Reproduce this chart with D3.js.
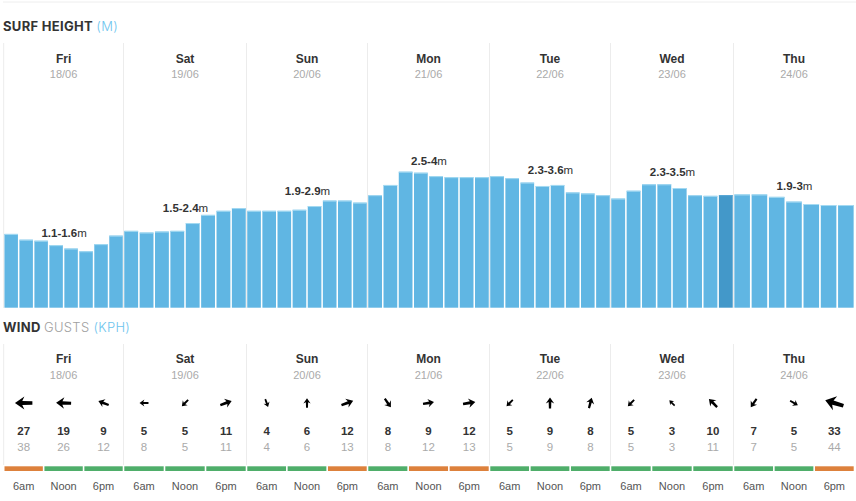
<!DOCTYPE html>
<html>
<head>
<meta charset="utf-8">
<script src="https://cdn.jsdelivr.net/npm/d3@7"></script>
<style>
	html, body { margin: 0; padding: 0; background: #fff; }
	svg { display: block; }
	text { font-family: "Liberation Sans", Arial, sans-serif; }
	.title { font-family: Inter, sans-serif; font-size: 13px; letter-spacing: 0.3px; }
</style>
</head>
<body>
<svg id="chart" width="856" height="501"></svg>
<script>
// forecast data
var days = ["Fri", "Sat", "Sun", "Mon", "Tue", "Wed", "Thu"];
var dates = ["18/06", "19/06", "20/06", "21/06", "22/06", "23/06", "24/06"];
var rangeMin = ["1.1", "1.5", "1.9", "2.5", "2.3", "2.3", "1.9"];
var rangeMax = ["1.6", "2.4", "2.9", "4", "3.6", "3.5", "3"];
var rangeLevel = [2.19, 2.94, 3.44, 4.32, 4.06, 3.98, 3.57];

var surfFri = [2.17, 2.00, 1.97, 1.84, 1.74, 1.66, 1.87, 2.12];
var surfSat = [2.26, 2.21, 2.24, 2.26, 2.49, 2.73, 2.85, 2.93];
var surfSun = [2.85, 2.85, 2.85, 2.88, 2.99, 3.15, 3.15, 3.09];
var surfMon = [3.31, 3.61, 4.00, 3.97, 3.87, 3.84, 3.84, 3.84];
var surfTue = [3.87, 3.81, 3.68, 3.58, 3.61, 3.39, 3.36, 3.31];
var surfWed = [3.21, 3.44, 3.63, 3.63, 3.52, 3.31, 3.29, 3.31];
var surfThu = [3.33, 3.33, 3.26, 3.12, 3.05, 3.02, 3.02];
var surf = [surfFri, surfSat, surfSun, surfMon, surfTue, surfWed, surfThu];

var slots = ["6am", "Noon", "6pm"];
var windSpeed = [27, 19, 9, 5, 5, 11, 4, 6, 12, 8, 9, 12, 5, 9, 8, 5, 3, 10, 7, 5, 33];
var windGust = [38, 26, 12, 8, 5, 11, 4, 6, 13, 8, 12, 13, 5, 9, 8, 5, 3, 11, 7, 5, 44];
var windDir = [270, 272, 292, 270, 225, 70, 160, 0, 70, 145, 80, 80, 225, 0, 15, 225, 315, 315, 215, 120, 287];
var windRating = ["o", "g", "g", "g", "g", "g", "g", "g", "o", "g", "o", "o", "g", "g", "g", "g", "g", "g", "g", "g", "o"];

var svg = d3.select("#chart");

// day columns are not quite even in the original
var dayX = d3.scaleLinear()
	.domain(d3.range(8))
	.range([3.7, 123.5, 246.5, 367.5, 489.5, 610.5, 733.5, 854.5]);
var y = d3.scaleLinear().domain([0, 4]).range([307.7, 171.7]);
var arrowSize = d3.scaleSqrt().domain([3, 33]).range([7.5, 19]);
var ratingColor = d3.scaleOrdinal().domain(["g", "o"]).range(["#4fae6a", "#dd813c"]);

svg.append("line").attr("x1", 3).attr("x2", 856).attr("y1", 2).attr("y2", 2)
	.attr("stroke", "#eeeeee").attr("stroke-width", 1);

function title(yPos, parts) {
	var t = svg.append("text").attr("class", "title").attr("x", 3).attr("y", yPos);
	parts.forEach(function (p) {
		t.append("tspan").attr("fill", p[1]).attr("font-weight", p[2]).text(p[0]);
	});
}
title(30.5, [["SURF HEIGHT ", "#333333", 700], ["(M)", "#6cc4ee", 300]]);
title(331.5, [["WIND ", "#333333", 700], ["GUSTS ", "#a0a0a0", 300], ["(KPH)", "#6cc4ee", 300]]);

function dayHeaders(top, bottom, nameY, dateY) {
	days.forEach(function (d, i) {
		svg.append("line")
			.attr("x1", dayX(i)).attr("x2", dayX(i))
			.attr("y1", top).attr("y2", bottom)
			.attr("stroke", "#ececec").attr("stroke-width", 1);
		var mid = dayX(i + 0.5);
		svg.append("text").attr("x", mid).attr("y", nameY).attr("text-anchor", "middle")
			.attr("font-size", 12).attr("font-weight", 700).attr("fill", "#333").text(d);
		svg.append("text").attr("x", mid).attr("y", dateY).attr("text-anchor", "middle")
			.attr("font-size", 11).attr("fill", "#aaa").text(dates[i]);
	});
}
dayHeaders(43, 308, 63, 78);
dayHeaders(344, 465, 363, 379);

// surf bars
surf.forEach(function (vals, i) {
	var band = d3.scaleBand()
		.domain(d3.range(vals.length))
		.range([dayX(i), dayX(i + 1)])
		.paddingInner(0.1)
		.paddingOuter(0.05);
	var g = svg.append("g");
	g.selectAll("rect.bar").data(vals).enter().append("rect")
		.attr("class", "bar")
		.attr("x", function (d, j) { return band(j); })
		.attr("width", band.bandwidth())
		.attr("y", function (d) { return y(d); })
		.attr("height", function (d) { return y(0) - y(d); })
		.attr("fill", function (d, j) { return (i == 5 && j == 7) ? "#4398c9" : "#60b6e3"; });
	g.selectAll("rect.cap").data(vals).enter().append("rect")
		.attr("class", "cap")
		.attr("x", function (d, j) { return band(j); })
		.attr("width", band.bandwidth())
		.attr("y", function (d) { return y(d); })
		.attr("height", 1)
		.attr("fill", function (d, j) { return (i == 5 && j == 7) ? "#5aa8d6" : "#a5daf2"; });

	var label = svg.append("text")
		.attr("x", dayX(i + 0.5) + 0.5).attr("y", y(rangeLevel[i]) + 4)
		.attr("text-anchor", "middle").attr("font-size", 11.5).attr("fill", "#333");
	label.append("tspan").attr("font-weight", 700).text(rangeMin[i] + "-" + rangeMax[i]);
	label.append("tspan").text("m");
});

// wind rows, one entry per time slot
var wind = windSpeed.map(function (s, i) {
	return {
		speed: s, gust: windGust[i], dir: windDir[i], rating: windRating[i],
		slot: slots[i % 3],
		pos: Math.floor(i / 3) + (i % 3) / 3
	};
});
// stubby arrow with a wide notched head
var arrowPath = "M0,-0.5 L0.38,0.04 L0.12,-0.08 L0.1,0.5 L-0.1,0.5 L-0.12,-0.08 L-0.38,0.04 Z";

var cell = svg.selectAll("g.slot").data(wind).enter().append("g").attr("class", "slot");
cell.append("path")
	.attr("d", arrowPath)
	.attr("fill", "#000")
	.attr("transform", function (d) {
		return "translate(" + dayX(d.pos + 1 / 6) + ",403) rotate(" + d.dir + ") scale(" + arrowSize(d.speed) + ")";
	});
cell.append("text")
	.attr("x", function (d) { return dayX(d.pos + 1 / 6); }).attr("y", 435)
	.attr("text-anchor", "middle").attr("font-size", 11.5).attr("font-weight", 700).attr("fill", "#333")
	.text(function (d) { return d.speed; });
cell.append("text")
	.attr("x", function (d) { return dayX(d.pos + 1 / 6); }).attr("y", 451)
	.attr("text-anchor", "middle").attr("font-size", 11.5).attr("fill", "#aaa")
	.text(function (d) { return d.gust; });
cell.append("rect")
	.attr("x", function (d) { return dayX(d.pos) + 0.8; })
	.attr("width", function (d) { return dayX(d.pos + 1 / 3) - dayX(d.pos) - 1.6; })
	.attr("y", 466.3).attr("height", 4.7)
	.attr("fill", function (d) { return ratingColor(d.rating); });
cell.append("text")
	.attr("x", function (d) { return dayX(d.pos + 1 / 6); }).attr("y", 490)
	.attr("text-anchor", "middle").attr("font-size", 11).attr("fill", "#555")
	.text(function (d) { return d.slot; });
</script>
</body>
</html>
